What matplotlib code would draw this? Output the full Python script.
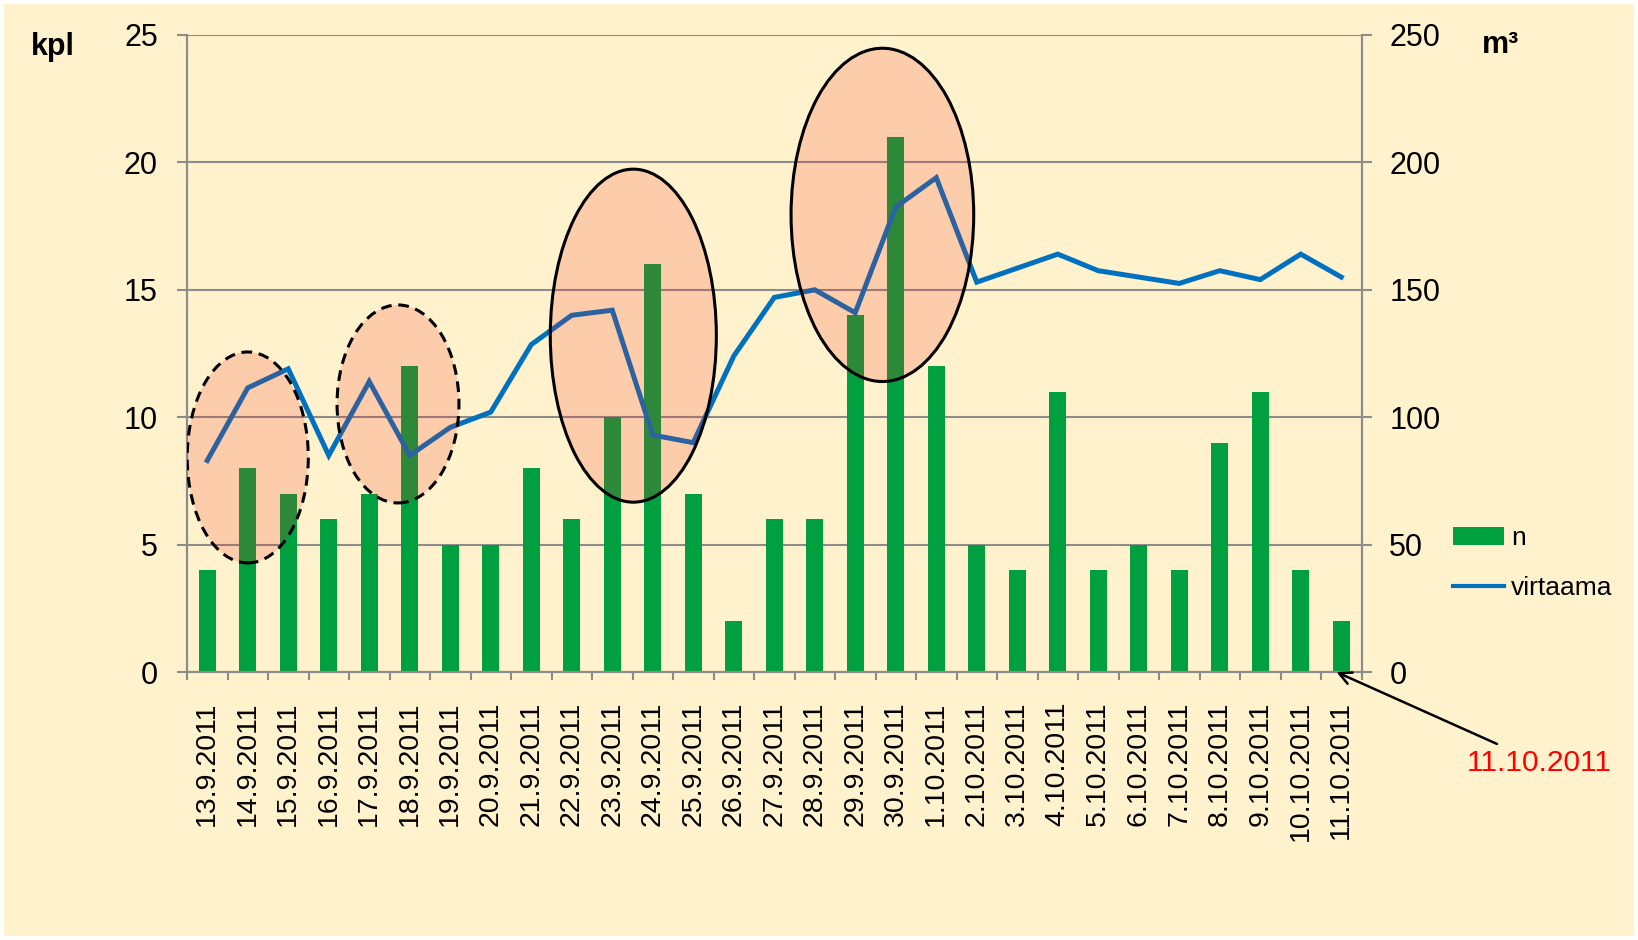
# Kalat (kpl) ja virtaama (m3) syys-lokakuu 2011

import numpy as np
import matplotlib.pyplot as plt
from matplotlib.patches import Ellipse, Patch, Rectangle
from matplotlib.lines import Line2D

plt.rcParams['font.family'] = ['Liberation Sans', 'DejaVu Sans']

# ---- data ----
dates = ["13.9.2011", "14.9.2011", "15.9.2011", "16.9.2011", "17.9.2011",
         "18.9.2011", "19.9.2011", "20.9.2011", "21.9.2011", "22.9.2011",
         "23.9.2011", "24.9.2011", "25.9.2011", "26.9.2011", "27.9.2011",
         "28.9.2011", "29.9.2011", "30.9.2011", "1.10.2011", "2.10.2011",
         "3.10.2011", "4.10.2011", "5.10.2011", "6.10.2011", "7.10.2011",
         "8.10.2011", "9.10.2011", "10.10.2011", "11.10.2011"]
n = [4, 8, 7, 6, 7, 12, 5, 5, 8, 6, 10, 16, 7, 2, 6, 6, 14, 21, 12, 5,
     4, 11, 4, 5, 4, 9, 11, 4, 2]
virtaama = [83, 111.5, 119, 85, 114, 85, 96, 102, 128.5, 140, 142, 93, 90,
            124, 147, 150, 141, 182.5, 194, 153, 158.5, 164, 157.5, 155,
            152.5, 157.5, 154, 164, 155]

# highlighted periods: (x centre, y centre in kpl, width, height, dashed?)
ellipse_x = [1.0, 4.71, 10.52, 16.67]
ellipse_y = [8.42, 10.52, 13.2, 17.94]
ellipse_w = [2.99, 3.01, 4.1, 4.51]
ellipse_h = [8.28, 7.77, 13.07, 13.08]
ellipse_dashed = [True, True, False, False]

# ---- colours ----
bg = '#FFF2CC'
green = '#00A040'
blue = '#0070C0'
grid_col = '#8C8C8C'

W, H = 1638, 940
fig = plt.figure(figsize=(W / 100, H / 100), dpi=100, facecolor='white')
fig.patches.append(Rectangle((4 / W, 4 / H), 1 - 8 / W, 1 - 8 / H,
                             transform=fig.transFigure, facecolor=bg,
                             edgecolor='none', zorder=-10))

ax1 = fig.add_axes([187 / W, 1 - 672 / H, (1361.5 - 187) / W, (672 - 35) / H])
ax1.set_facecolor('none')
x = np.arange(len(dates))

ax1.bar(x, n, width=0.42, color=green, zorder=2)
ax1.set_xlim(-0.5, len(dates) - 0.5)
ax1.set_ylim(0, 25)
ax1.set_yticks([0, 5, 10, 15, 20, 25])
ax1.set_axisbelow(True)
ax1.yaxis.grid(True, color=grid_col, linewidth=1.5)

# category boundaries as ticks, labels in the middle
ax1.set_xticks(np.arange(-0.5, len(dates), 1))
ax1.set_xticklabels([])
ax1.set_xticks(x, minor=True)
ax1.set_xticklabels(dates, minor=True, rotation=90, fontsize=20.5,
                    ha='center', va='top')
ax1.tick_params(axis='x', which='major', length=6, width=1.5, color=grid_col)
ax1.tick_params(axis='x', which='minor', length=0, pad=21)
ax1.tick_params(axis='y', length=7, width=1.5, color=grid_col,
                labelsize=22, pad=14)

for s in ['left', 'bottom', 'right']:
    ax1.spines[s].set_color(grid_col)
    ax1.spines[s].set_linewidth(1.5)
ax1.spines['top'].set_visible(False)

ax2 = ax1.twinx()
ax2.plot(x, virtaama, color=blue, linewidth=3.6, solid_joinstyle='miter',
         zorder=3)
ax2.set_ylim(0, 250)
ax2.set_yticks([0, 50, 100, 150, 200, 250])
ax2.tick_params(axis='y', length=7, width=1.5, color=grid_col,
                labelsize=22, pad=13)
for s in ['left', 'bottom', 'right']:
    ax2.spines[s].set_color(grid_col)
    ax2.spines[s].set_linewidth(1.5)
ax2.spines['top'].set_visible(False)

# ellipses on top of everything (kpl coordinates)
for ex, ey, ew, eh, dashed in zip(ellipse_x, ellipse_y, ellipse_w,
                                  ellipse_h, ellipse_dashed):
    fill = Ellipse((ex, ey), ew, eh, transform=ax1.transData,
                   facecolor='#F0281E', alpha=0.19, edgecolor='none',
                   zorder=5)
    ax2.add_patch(fill)
    edge = Ellipse((ex, ey), ew, eh, transform=ax1.transData,
                   facecolor='none', edgecolor='black', linewidth=2.2,
                   linestyle=(0, (3.5, 2.2)) if dashed else '-', zorder=6)
    ax2.add_patch(edge)

# axis unit labels
fig.text(31 / W, 1 - 55 / H, "kpl", fontsize=22, fontweight='bold',
         va='baseline', ha='left')
fig.text(1482 / W, 1 - 53 / H, "m³", fontsize=22, fontweight='bold',
         va='baseline', ha='left')

# legend
handles = [Patch(facecolor=green, label='n'),
           Line2D([0], [0], color=blue, linewidth=3, label='virtaama')]
fig.legend(handles=handles, loc='upper left', frameon=False, fontsize=19,
           bbox_to_anchor=(1453 / W, 1 - 526 / H), borderpad=0,
           borderaxespad=0, handlelength=1.95, handletextpad=0.25,
           labelspacing=1.0)

# arrow to the last day
ax2.annotate("11.10.2011", xy=(27.88, 0), xycoords='data',
             xytext=(1467, H - 763), textcoords='figure pixels',
             fontsize=21.5, color='#FF0000', ha='left', va='center',
             annotation_clip=False,
             arrowprops=dict(arrowstyle='->', color='black', lw=1.8,
                             shrinkA=4, shrinkB=0, mutation_scale=22))

fig.savefig("out.png", dpi=100, facecolor=fig.get_facecolor())
